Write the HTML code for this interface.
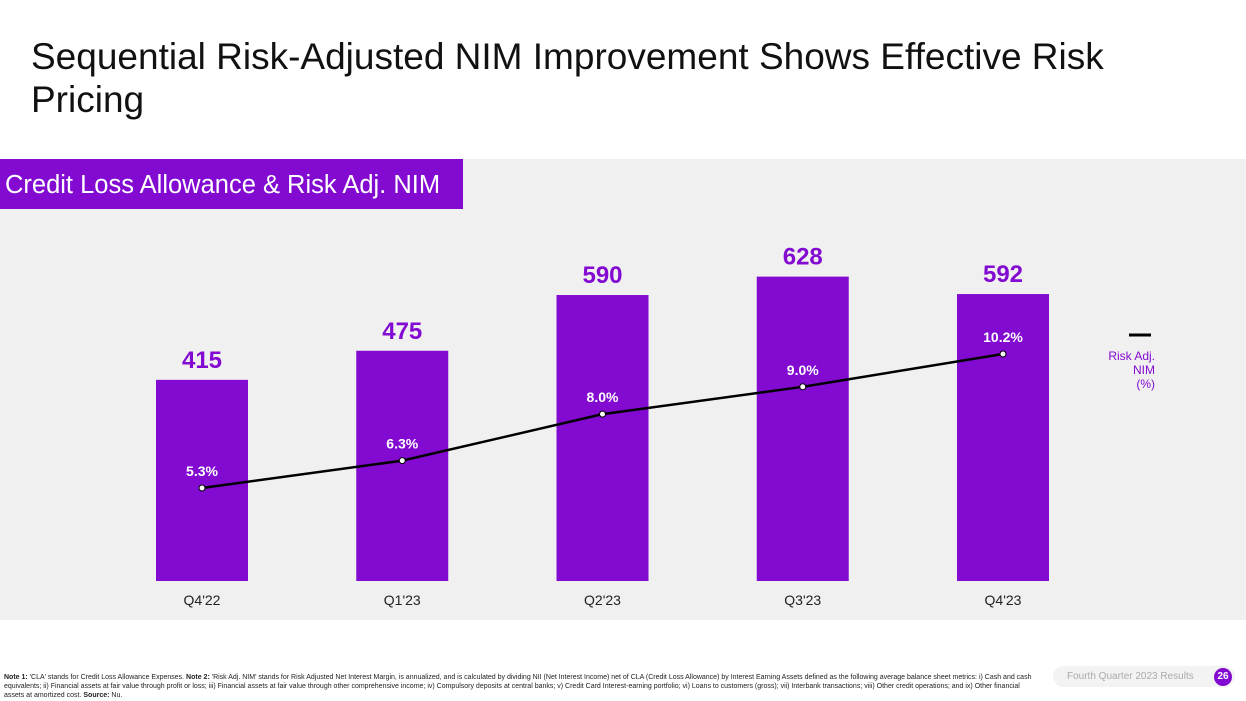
<!DOCTYPE html>
<html><head><meta charset="utf-8"><style>
body{margin:0;width:1246px;height:701px;background:#fff;font-family:"Liberation Sans",sans-serif;position:relative;overflow:hidden}
.title{position:absolute;left:31px;top:35px;font-size:37px;line-height:43px;color:#111;width:1100px}
.panel{position:absolute;left:0;top:159px;width:1246px;height:461px;background:#f0f0f0}
.hdr{position:absolute;left:0;top:159px;width:463px;height:50px;background:#820ad1;color:#fff;font-size:25.5px;line-height:52px;padding-left:5px;box-sizing:border-box;white-space:nowrap}
.note{position:absolute;left:4px;top:673px;width:1036px;font-size:7px;line-height:9px;color:#222}
.pill{position:absolute;left:1053px;top:666px;width:182px;height:21px;border-radius:11px;background:#f3f3f3;font-size:10px;color:#aaa;line-height:21px;padding-left:14px;box-sizing:border-box}
.pg{position:absolute;left:1214px;top:668px;width:18px;height:18px;border-radius:9px;background:#820ad1;color:#fff;font-size:10px;font-weight:bold;text-align:center;line-height:18px}
</style></head><body>
<div class="title">Sequential Risk-Adjusted NIM Improvement Shows Effective Risk Pricing</div>
<div class="panel"></div>
<div class="hdr">Credit Loss Allowance &amp; Risk Adj. NIM</div>
<svg id="chart" style="position:absolute;left:0;top:0" width="1246" height="701"></svg>
<div class="note"><b>Note 1:</b> 'CLA' stands for Credit Loss Allowance Expenses. <b>Note 2:</b> 'Risk Adj. NIM' stands for Risk Adjusted Net Interest Margin, is annualized, and is calculated by dividing NII (Net Interest Income) net of CLA (Credit Loss Allowance) by Interest Earning Assets defined as the following average balance sheet metrics: i) Cash and cash equivalents; ii) Financial assets at fair value through profit or loss; iii) Financial assets at fair value through other comprehensive income; iv) Compulsory deposits at central banks; v) Credit Card Interest-earning portfolio; vi) Loans to customers (gross); vii) Interbank transactions; viii) Other credit operations; and ix) Other financial assets at amortized cost. <b>Source:</b> Nu.</div>
<div class="pill">Fourth Quarter 2023 Results</div>
<div class="pg">26</div>
<script>
const categories=["Q4'22","Q1'23","Q2'23","Q3'23","Q4'23"];
const claValues=[415,475,590,628,592];
const nimValues=[5.3,6.3,8.0,9.0,10.2];
const nimLabels=["5.3%","6.3%","8.0%","9.0%","10.2%"];
const svg=document.getElementById('chart');const NS='http://www.w3.org/2000/svg';
function mk(t,a,txt){const e=document.createElementNS(NS,t);for(const k in a)e.setAttribute(k,a[k]);if(txt!==undefined)e.textContent=txt;svg.appendChild(e);return e;}
const base=581;
function xC(i){return 202+i*200.25;}
function yBar(v){return base-v*0.4847;}
function yNim(v){return 488-(v-5.3)*27.35;}
categories.forEach((c,i)=>{
 const b=mk('rect',{x:xC(i)-46,y:yBar(claValues[i]),width:92,height:base-yBar(claValues[i]),fill:'#820ad1'});
 
 
 const v=mk('text',{x:xC(i),y:yBar(claValues[i])-12,'text-anchor':'middle','font-size':24,'font-weight':'bold',fill:'#820ad1'},claValues[i]);
 
 
 const l=mk('text',{x:xC(i),y:605,'text-anchor':'middle','font-size':14,fill:'#222'},c);
 
 
});
const pts=nimValues.map((v,i)=>xC(i)+','+yNim(v)).join(' ');
const pl=mk('polyline',{points:pts,fill:'none',stroke:'#000','stroke-width':2.5});


nimValues.forEach((v,i)=>{
 const p=mk('circle',{cx:xC(i),cy:yNim(v),r:3,fill:'#fff',stroke:'#000','stroke-width':1});
 
 
 const t=mk('text',{x:xC(i),y:yNim(v)-12,'text-anchor':'middle','font-size':14,'font-weight':'bold',fill:'#fff'},nimLabels[i]);
 
 
});
const lg=mk('line',{x1:1129,y1:335,x2:1151,y2:335,stroke:'#000','stroke-width':3});


['Risk Adj.','NIM','(%)'].forEach((s,i)=>{const t=mk('text',{x:1155,y:360+i*14,'text-anchor':'end','font-size':12,fill:'#820ad1'},s);
 
 });
</script>
</body></html>
